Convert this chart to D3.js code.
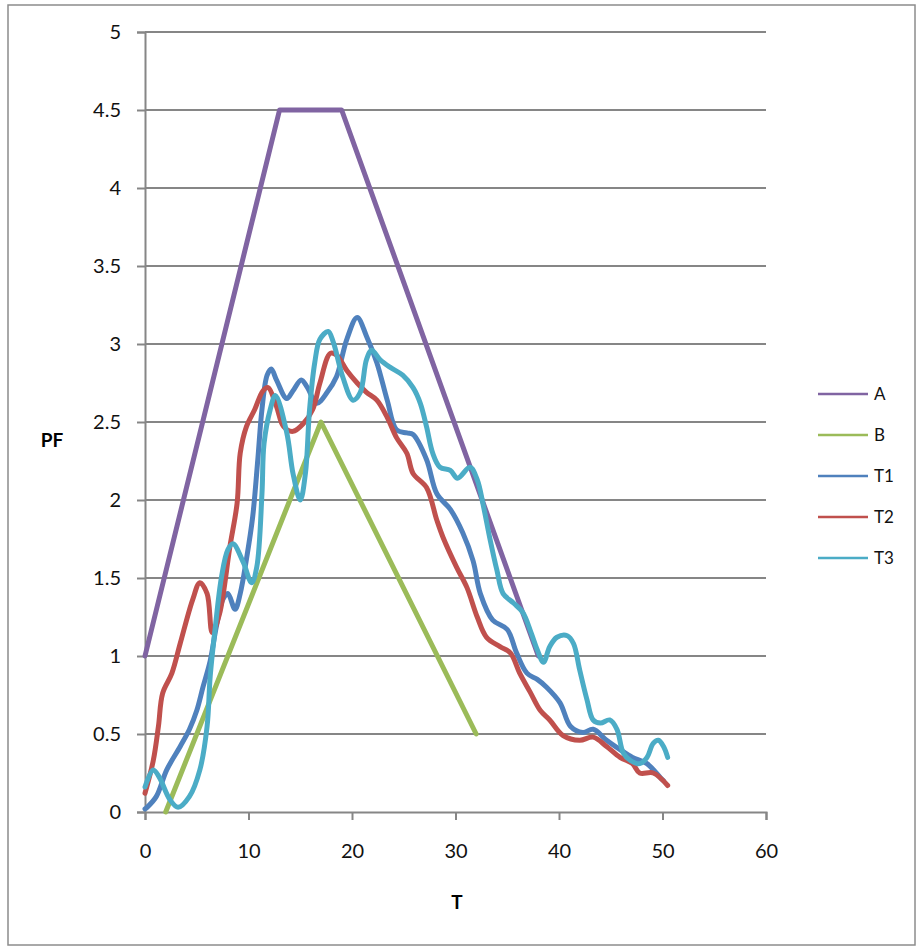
<!DOCTYPE html>
<html><head><meta charset="utf-8">
<script src="https://cdn.jsdelivr.net/npm/d3@7"></script>
<style>body{margin:0;background:#fff}svg{display:block}</style>
</head><body>
<svg id="c" width="924" height="947"></svg>
<script>
const seriesNames = ["A","B","T1","T2","T3"];
const seriesColors = ["#8064A2","#9BBB59","#4F81BD","#C0504D","#4BACC6"];
const xTicks = [0,10,20,30,40,50,60];
const yTicks = [0,0.5,1,1.5,2,2.5,3,3.5,4,4.5,5];

const seriesA = [[0,1],[13,4.5],[19,4.5],[38,1]];
const seriesB = [[2,0],[17,2.5],[32,0.5]];
const seriesT1 = [[0,0.02],[0.2,0.03],[1.1,0.1],[2.1,0.27],[3.4,0.42],[4.3,0.53],[5.0,0.65],[5.6,0.8],[6.3,0.97],[6.9,1.19],[7.5,1.36],[8.0,1.4],[8.7,1.3],[9.2,1.4],[9.8,1.62],[10.4,1.89],[10.9,2.26],[11.3,2.58],[11.8,2.8],[12.2,2.84],[12.7,2.77],[13.7,2.65],[14.3,2.7],[15.1,2.77],[15.7,2.72],[16.6,2.62],[17.6,2.69],[18.5,2.79],[19.5,3.03],[20.5,3.17],[21.4,3.05],[22.4,2.88],[23.4,2.64],[24.3,2.45],[25.3,2.43],[25.9,2.42],[27.2,2.26],[28.2,2.04],[29.5,1.94],[30.7,1.79],[31.7,1.61],[32.4,1.4],[33.6,1.23],[35.0,1.17],[35.9,1.02],[36.9,0.89],[37.9,0.85],[38.8,0.8],[40.1,0.7],[41.1,0.55],[42.3,0.51],[43.3,0.53],[44.6,0.46],[45.9,0.4],[47.1,0.35],[48.5,0.31],[49.8,0.22],[50.1,0.2]];
const seriesT2 = [[0,0.12],[0.8,0.33],[1.3,0.55],[1.7,0.76],[2.6,0.89],[3.4,1.08],[4.6,1.36],[5.3,1.47],[6.0,1.4],[6.5,1.15],[7.2,1.27],[8.2,1.7],[8.9,1.98],[9.2,2.3],[9.8,2.47],[10.6,2.58],[11.4,2.7],[11.9,2.72],[12.7,2.6],[13.4,2.47],[14.3,2.44],[15.3,2.49],[16.2,2.58],[16.9,2.75],[17.9,2.94],[18.5,2.93],[19.5,2.83],[20.5,2.75],[21.4,2.69],[22.4,2.64],[23.4,2.53],[24.3,2.4],[25.3,2.3],[25.9,2.17],[27.2,2.08],[28.2,1.87],[28.8,1.76],[30.1,1.57],[31.1,1.44],[32.1,1.25],[33.0,1.12],[34.3,1.06],[35.3,1.02],[36.2,0.89],[37.2,0.77],[38.2,0.65],[39.1,0.59],[40.4,0.49],[42.0,0.46],[43.3,0.48],[44.6,0.42],[45.9,0.35],[47.1,0.31],[47.8,0.25],[49.1,0.25],[50.5,0.17]];
const seriesT3 = [[0,0.16],[0.8,0.27],[1.4,0.22],[2.4,0.08],[3.2,0.03],[4.3,0.1],[5.3,0.27],[6.0,0.55],[6.3,0.87],[6.8,1.19],[7.4,1.51],[8.0,1.68],[8.5,1.72],[9.5,1.6],[10.3,1.47],[10.8,1.57],[11.3,2.04],[11.5,2.36],[12.1,2.58],[12.6,2.67],[13.7,2.43],[14.3,2.17],[15.0,2.0],[15.5,2.17],[15.9,2.58],[16.4,2.88],[16.9,3.03],[17.7,3.08],[18.2,3.01],[19.1,2.79],[20.1,2.64],[20.8,2.69],[21.4,2.9],[21.9,2.96],[22.7,2.9],[23.7,2.85],[24.9,2.8],[25.9,2.72],[26.6,2.62],[27.2,2.47],[27.8,2.3],[28.5,2.21],[29.5,2.19],[30.2,2.14],[31.4,2.21],[32.1,2.13],[32.7,1.96],[33.3,1.76],[34.0,1.55],[34.6,1.4],[35.6,1.34],[36.5,1.28],[37.3,1.15],[37.9,1.04],[38.5,0.96],[39.1,1.06],[39.8,1.12],[40.8,1.13],[41.4,1.08],[42.0,0.91],[42.7,0.72],[43.3,0.59],[44.0,0.57],[44.9,0.59],[45.6,0.53],[46.2,0.38],[46.9,0.33],[47.8,0.31],[48.5,0.35],[49.1,0.44],[49.6,0.46],[50.1,0.42],[50.5,0.35]];

const allSeries = [seriesA, seriesB, seriesT1, seriesT2, seriesT3];
const drawOrder = [0,1,2,3,4];

const svg = d3.select("#c");
const font = "Lato, 'Open Sans', sans-serif";
const grid = "#868686";

svg.append("rect").attr("x",8).attr("y",5).attr("width",907).attr("height",940)
  .attr("fill","none").attr("stroke","#8c8c8c").attr("stroke-width",1.5);

const x = d3.scaleLinear().domain([0,60]).range([145,766]);
const y = d3.scaleLinear().domain([0,5]).range([812,32]);

// gridlines
svg.append("g").selectAll("line").data(yTicks.filter(d=>d>0)).join("line")
  .attr("x1",x(0)).attr("x2",x(60)).attr("y1",d=>y(d)).attr("y2",d=>y(d))
  .attr("stroke",grid).attr("stroke-width",2);

// y axis
const yAxis = svg.append("g").attr("transform",`translate(${x(0)},0)`)
  .call(d3.axisLeft(y).tickValues(yTicks).tickSize(8).tickPadding(16).tickFormat(d=>String(d)));
yAxis.select(".domain").attr("stroke",grid).attr("stroke-width",2);
yAxis.selectAll(".tick line").attr("stroke",grid).attr("stroke-width",2);
yAxis.selectAll("text").attr("font-family",font).attr("font-size",20).attr("fill","#111");

// x axis
const xAxis = svg.append("g").attr("transform",`translate(0,${y(0)})`)
  .call(d3.axisBottom(x).tickValues(xTicks).tickSize(8).tickPadding(24).tickFormat(d=>String(d)));
xAxis.select(".domain").attr("stroke",grid).attr("stroke-width",2);
xAxis.selectAll(".tick line").attr("stroke",grid).attr("stroke-width",2);
xAxis.selectAll("text").attr("font-family",font).attr("font-size",20).attr("fill","#111");

// axis titles
svg.append("text").attr("x",457).attr("y",909).attr("text-anchor","middle")
  .attr("font-family",font).attr("font-weight","bold").attr("font-size",19).text("T");
svg.append("text").attr("x",52).attr("y",447).attr("text-anchor","middle")
  .attr("font-family",font).attr("font-weight","bold").attr("font-size",19).text("PF");

// series
const straight = d3.line().x(d=>x(d[0])).y(d=>y(d[1]));
const smooth = d3.line().x(d=>x(d[0])).y(d=>y(d[1])).curve(d3.curveCatmullRom.alpha(0.5));
drawOrder.forEach(i=>{
  svg.append("path").datum(allSeries[i])
    .attr("d", i<2 ? straight : smooth)
    .attr("fill","none").attr("stroke",seriesColors[i]).attr("stroke-width",5)
    .attr("stroke-linejoin","round").attr("stroke-linecap","round");
});

// legend
const lg = svg.append("g");
seriesNames.forEach((n,i)=>{
  const yy = 394 + i*41;
  lg.append("line").attr("x1",818).attr("x2",868).attr("y1",yy).attr("y2",yy)
    .attr("stroke",seriesColors[i]).attr("stroke-width",2.5);
  lg.append("text").attr("x",874).attr("y",yy+6).attr("font-family",font)
    .attr("font-size",17).attr("fill","#111").text(n);
});
</script>
</body></html>
